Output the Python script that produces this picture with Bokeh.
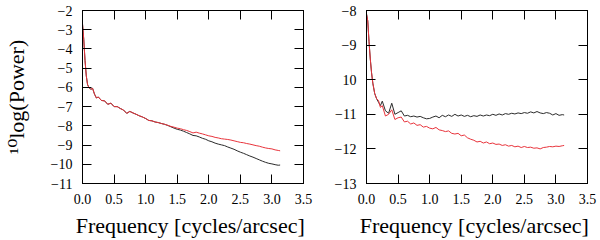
from bokeh.plotting import figure
from bokeh.layouts import row
from bokeh.models import LinearAxis, FixedTicker, Range1d
from bokeh.embed import file_html
from bokeh.resources import INLINE

freq = [0.0, 0.02, 0.04, 0.06, 0.08, 0.10, 0.13, 0.16, 0.19, 0.22, 0.25,
        0.30, 0.35, 0.40, 0.45, 0.50, 0.55, 0.60, 0.65, 0.70, 0.75,
        0.80, 0.85, 0.90, 0.95, 1.00, 1.05, 1.10, 1.15, 1.20, 1.25,
        1.30, 1.35, 1.40, 1.45, 1.50, 1.55, 1.60, 1.65, 1.70, 1.75,
        1.80, 1.85, 1.90, 1.95, 2.00, 2.05, 2.10, 2.15, 2.20, 2.25,
        2.30, 2.35, 2.40, 2.45, 2.50, 2.55, 2.60, 2.65, 2.70, 2.75,
        2.80, 2.85, 2.90, 2.95, 3.00, 3.05, 3.10, 3.13]

left_black = [-2.7, -3.5, -4.6, -5.4, -5.85, -6.0, -6.1, -6.05, -6.35, -6.55, -6.5,
              -6.68, -6.7, -6.88, -6.82, -7.0, -7.0, -7.1, -7.18, -7.35, -7.25,
              -7.33, -7.4, -7.48, -7.54, -7.62, -7.72, -7.74, -7.8, -7.83, -7.88,
              -7.92, -7.98, -8.05, -8.12, -8.18, -8.22, -8.28, -8.35, -8.42, -8.5,
              -8.52, -8.58, -8.65, -8.7, -8.78, -8.83, -8.9, -8.95, -8.99, -9.03,
              -9.1, -9.16, -9.22, -9.3, -9.37, -9.43, -9.5, -9.57, -9.63, -9.7,
              -9.77, -9.84, -9.9, -9.95, -9.98, -10.02, -10.05, -10.04]

left_red = [-2.7, -3.5, -4.6, -5.4, -5.85, -6.0, -6.1, -6.05, -6.35, -6.55, -6.5,
            -6.68, -6.7, -6.88, -6.82, -7.0, -7.0, -7.1, -7.18, -7.35, -7.25,
            -7.33, -7.4, -7.48, -7.54, -7.62, -7.72, -7.74, -7.8, -7.83, -7.88,
            -7.92, -7.97, -8.03, -8.07, -8.12, -8.15, -8.2, -8.24, -8.3, -8.37,
            -8.33, -8.38, -8.42, -8.47, -8.52, -8.55, -8.6, -8.63, -8.67, -8.69,
            -8.71, -8.74, -8.78, -8.82, -8.86, -8.88, -8.92, -8.95, -8.99, -9.03,
            -9.06, -9.11, -9.15, -9.18, -9.2, -9.25, -9.28, -9.3]

right_black = [-8.1, -8.3, -8.9, -9.4, -9.8, -10.1, -10.4, -10.55, -10.65, -10.75, -10.62,
               -10.9, -10.97, -10.68, -11.0, -10.95, -10.9, -11.05, -11.03, -11.07, -11.05,
               -11.08, -11.06, -11.1, -11.13, -11.12, -11.08, -11.05, -11.1, -11.03, -11.07,
               -11.02, -11.06, -11.0, -11.05, -11.02, -11.06, -11.03, -11.07, -11.04, -11.06,
               -11.02, -11.05, -11.02, -11.04, -11.0, -11.03, -10.99, -11.02, -10.98, -11.0,
               -10.97, -10.99, -10.96, -10.98, -10.95, -10.97, -10.93, -10.96, -10.92, -10.96,
               -10.98, -10.95, -10.97, -11.02, -10.98, -11.03, -11.01, -11.02]

right_red = [-8.1, -8.3, -8.9, -9.4, -9.8, -10.1, -10.4, -10.55, -10.6, -10.8, -10.75,
             -11.05, -11.0, -10.87, -11.15, -11.1, -11.08, -11.22, -11.2, -11.28, -11.25,
             -11.32, -11.3, -11.37, -11.35, -11.4, -11.42, -11.38, -11.45, -11.47, -11.5,
             -11.48, -11.55, -11.57, -11.55, -11.62, -11.6, -11.68, -11.72, -11.75, -11.8,
             -11.78, -11.83, -11.8, -11.85, -11.83, -11.87, -11.86, -11.9, -11.88, -11.92,
             -11.9, -11.94, -11.92, -11.96, -11.93, -11.96, -11.95, -11.98, -11.97, -12.0,
             -11.96, -11.95, -11.93, -11.94, -11.92, -11.93, -11.91, -11.9]

x_ticks = [0.0, 0.5, 1.0, 1.5, 2.0, 2.5, 3.0, 3.5]
x_tick_labels = ["0.0", "0.5", "1.0", "1.5", "2.0", "2.5", "3.0", "3.5"]
left_y_ticks = [-11, -10, -9, -8, -7, -6, -5, -4, -3, -2]
left_y_labels = ["−11", "−10", "−9", "−8", "−7", "−6", "−5", "−4", "−3", "−2"]
right_y_ticks = [-13, -12, -11, -10, -9, -8]
right_y_labels = ["−13", "−12", "−11", "10", "−9", "−8"]

FONT = "'Liberation Serif', 'DejaVu Serif', serif"
TICK_FONT = "serif"
BLACK = "#2b2b2b"
RED = "#e8343c"


def style_axis(ax, ticks, labels, show_labels=True):
    ax.ticker = FixedTicker(ticks=ticks)
    ax.minor_tick_line_color = None
    ax.major_tick_in = 9
    ax.major_tick_out = 0
    ax.major_tick_line_color = "black"
    ax.major_tick_line_width = 1
    ax.axis_line_color = "black"
    if show_labels:
        ax.major_label_overrides = {t: l for t, l in zip(ticks, labels)}
        ax.major_label_text_font = TICK_FONT
        ax.major_label_text_font_size = "14px"
        ax.major_label_text_color = "black"
        ax.major_label_standoff = 10
    else:
        ax.major_label_text_color = None
        ax.major_label_standoff = 0
    ax.axis_label_text_font = FONT
    ax.axis_label_text_font_style = "normal"
    ax.axis_label_text_font_size = "22px"
    ax.axis_label_text_color = "black"


def make_panel(width, bl, br, yr, yticks, ylabels, black, red, ylabel):
    p = figure(width=width, height=240, output_backend="svg", toolbar_location=None,
               x_range=Range1d(0, 3.5), y_range=Range1d(*yr),
               min_border_left=bl, min_border_right=br,
               min_border_top=10, min_border_bottom=53)
    p.xgrid.visible = False
    p.ygrid.visible = False
    p.outline_line_color = "black"
    p.outline_line_width = 1
    p.background_fill_color = "white"
    p.border_fill_color = "white"
    style_axis(p.xaxis[0], x_ticks, x_tick_labels)
    style_axis(p.yaxis[0], yticks, ylabels)
    p.xaxis[0].axis_label = "Frequency  [cycles/arcsec]"
    p.xaxis[0].axis_label_standoff = 6
    if ylabel:
        p.yaxis[0].axis_label = ylabel
        p.yaxis[0].axis_label_standoff = 19
    top = LinearAxis()
    style_axis(top, x_ticks, x_tick_labels, show_labels=False)
    p.add_layout(top, "above")
    right = LinearAxis()
    style_axis(right, yticks, ylabels, show_labels=False)
    p.add_layout(right, "right")
    p.line(freq, black, line_color=BLACK, line_width=1)
    p.line(freq, red, line_color=RED, line_width=1)
    return p


p1 = make_panel(330, 81, 27, (-11, -2), left_y_ticks, left_y_labels,
                left_black, left_red, "¹⁰log(Power)")
p2 = make_panel(270, 36, 13, (-13, -8), right_y_ticks, right_y_labels,
                right_black, right_red, None)

p = row(p1, p2)

open("out.html", "w").write(file_html(p, INLINE))
